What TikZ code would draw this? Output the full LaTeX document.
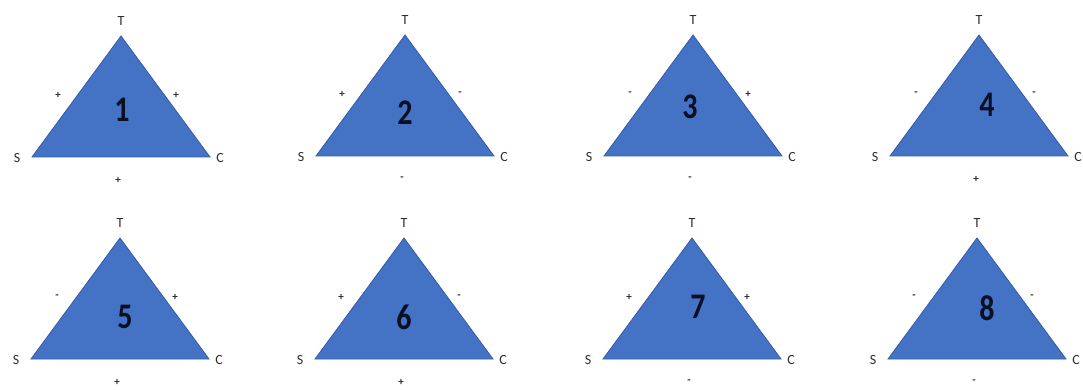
\documentclass[tikz,border=0pt]{standalone}
\usepackage{fontspec}
\usepackage{graphicx}
\setmainfont{Carlito}
\definecolor{triblue}{RGB}{68,114,196}
\definecolor{triedge}{RGB}{52,92,168}
\definecolor{labelgray}{RGB}{45,45,45}
\definecolor{numcol}{RGB}{10,16,36}
\tikzset{
  tri/.style={fill=triblue, draw=triedge, line width=0.8pt, line join=miter},
  vlabel/.style={font=\fontsize{14}{14}\selectfont, text=labelgray, inner sep=0pt},
  signlabel/.style={font=\bfseries\fontsize{11}{11}\selectfont, text=labelgray, inner sep=0pt},
  numlabel/.style={font=\bfseries\fontsize{30}{30}\selectfont, text=numcol, inner sep=0pt}
}
% #1 name, #2 apex x, #3 apex y, #4 number, #5 left sign, #6 right sign, #7 bottom sign, #8 number dx, #9 number dy
\newcommand\signtri[9]{%
  \coordinate (#1T) at (#2,#3);
  \coordinate (#1S) at (#2-89,#3+121);
  \coordinate (#1C) at (#2+89,#3+121);
  \draw[tri] (#1T) -- (#1S) -- (#1C) -- cycle;
  \node[vlabel] (#1Tl) at (#2,#3-15) {T};
  \node[vlabel] (#1Sl) at (#2-104,#3+122) {S};
  \node[vlabel] (#1Cl) at (#2+99,#3+122) {C};
  \node[signlabel] (#1left) at (#2-63,#3+59) {#5};
  \node[signlabel] (#1right) at (#2+55,#3+59) {#6};
  \node[signlabel] (#1bottom) at (#2-3,#3+144) {#7};
  \node[numlabel] (#1num) at (#2+#8,#3+#9) {\scalebox{1}[1.2]{#4}};
}
\begin{document}
\begin{tikzpicture}[x=1pt,y=-1pt]
  \useasboundingbox (0,0) rectangle (1083,390);
  \signtri{a}{121}{36}{1}{+}{+}{+}{1}{74}
  \signtri{b}{405}{35}{2}{+}{-}{-}{0}{78}
  \signtri{c}{693}{35}{3}{-}{+}{-}{-3}{72}
  \signtri{d}{979}{35}{4}{-}{-}{+}{8}{70}
  \signtri{e}{120}{238}{5}{-}{+}{+}{5}{79}
  \signtri{f}{404}{238}{6}{+}{-}{+}{0}{79}
  \signtri{g}{692}{238}{7}{+}{+}{-}{6}{69}
  \signtri{h}{977}{238}{8}{-}{-}{-}{10}{70}
\end{tikzpicture}
\end{document}
